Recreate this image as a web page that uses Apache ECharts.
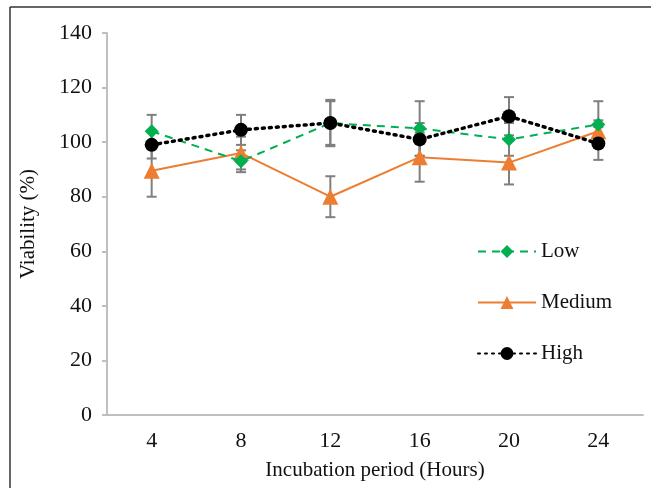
<!DOCTYPE html>
<html>
<head>
<meta charset="utf-8">
<script src="https://cdn.jsdelivr.net/npm/echarts@6/dist/echarts.min.js"></script>
<style>
  html, body { margin: 0; padding: 0; background: #fff; }
  #chart { width: 651px; height: 488px; }
</style>
</head>
<body>
<div id="chart"></div>
<script>
// incubation time points (hours)
const hours = ['4', '8', '12', '16', '20', '24'];

// viability (%)
const lowValues = [104, 93, 107, 105, 101, 106.5];
const lowErrors = [6, 4, 8, 10, 6, 8.5];
const mediumValues = [89.5, 96, 80, 94.5, 92.5, 104];
const mediumErrors = [9.5, 6, 7.5, 9, 8, 4];
const highValues = [99, 104.5, 107, 101, 109.5, 99.5];
const highErrors = [5, 5.5, 8.5, 6, 7, 6];

const yTicks = [0, 20, 40, 60, 80, 100, 120, 140];

const serifFont = '"Liberation Serif", "DejaVu Serif", serif';
const textColor = '#111';

// error bars drawn as custom series: [x, low, high]
function errorData(values, errors) {
  let out = [];
  for (let i = 0; i < values.length; i++) {
    out.push([i, values[i] - errors[i], values[i] + errors[i]]);
  }
  return out;
}

function errorSeries(values, errors) {
  return {
    type: 'custom',
    silent: true,
    z: 1,
    data: errorData(values, errors),
    renderItem: function (params, api) {
      const x = api.value(0);
      const lo = api.coord([x, api.value(1)]);
      const hi = api.coord([x, api.value(2)]);
      const w = 5;
      const style = { stroke: '#7f7f7f', lineWidth: 2 };
      return {
        type: 'group',
        children: [
          { type: 'line', shape: { x1: lo[0], y1: lo[1], x2: hi[0], y2: hi[1] }, style: style },
          { type: 'line', shape: { x1: lo[0] - w, y1: lo[1], x2: lo[0] + w, y2: lo[1] }, style: style },
          { type: 'line', shape: { x1: hi[0] - w, y1: hi[1], x2: hi[0] + w, y2: hi[1] }, style: style }
        ]
      };
    }
  };
}

const chart = echarts.init(document.getElementById('chart'));
chart.setOption({
  animation: false,
  grid: { left: 107, right: 8, top: 33, bottom: 73 },
  graphic: [
    { type: 'line', shape: { x1: 10, y1: 7, x2: 10, y2: 488 }, style: { stroke: '#333', lineWidth: 1.5 } },
    { type: 'line', shape: { x1: 10, y1: 7, x2: 651, y2: 7 }, style: { stroke: '#333', lineWidth: 1.5 } }
  ],
  legend: {
    orient: 'vertical',
    left: 477,
    top: 241,
    padding: 0,
    itemWidth: 58,
    itemHeight: 16,
    itemGap: 30,
    textStyle: { fontFamily: serifFont, fontSize: 21, color: textColor },
    data: ['Low', 'Medium', 'High']
  },
  xAxis: {
    type: 'category',
    data: hours,
    name: 'Incubation period (Hours)',
    nameLocation: 'middle',
    nameGap: 45,
    nameTextStyle: { fontFamily: serifFont, fontSize: 21, color: textColor },
    axisLine: { lineStyle: { color: '#bfbfbf', width: 2 } },
    axisTick: { alignWithLabel: true, length: 5, lineStyle: { color: '#bfbfbf', width: 2 } },
    axisLabel: { fontFamily: serifFont, fontSize: 22, color: textColor, margin: 15 },
    splitLine: { show: false }
  },
  yAxis: {
    type: 'value',
    min: 0,
    max: 140,
    interval: 20,
    name: 'Viability (%)',
    nameLocation: 'middle',
    nameGap: 68,
    nameTextStyle: { fontFamily: serifFont, fontSize: 21, color: textColor },
    axisLine: { show: true, lineStyle: { color: '#bfbfbf', width: 2 } },
    axisTick: { show: true, length: 5, lineStyle: { color: '#bfbfbf', width: 2 } },
    axisLabel: {
      fontFamily: serifFont, fontSize: 22, color: textColor, margin: 15,
      formatter: function (v) { return yTicks.indexOf(v) >= 0 ? String(v) : ''; }
    },
    splitLine: { show: false }
  },
  series: [
    errorSeries(lowValues, lowErrors),
    errorSeries(mediumValues, mediumErrors),
    errorSeries(highValues, highErrors),
    {
      name: 'Low',
      type: 'line',
      z: 3,
      data: lowValues,
      symbol: 'diamond',
      symbolSize: 14,
      itemStyle: { color: '#00b050' },
      lineStyle: { color: '#00b050', width: 2, type: [8, 6] }
    },
    {
      name: 'Medium',
      type: 'line',
      z: 2,
      data: mediumValues,
      symbol: 'triangle',
      symbolSize: 16,
      itemStyle: { color: '#ed7d31' },
      lineStyle: { color: '#ed7d31', width: 2 }
    },
    {
      name: 'High',
      type: 'line',
      z: 4,
      data: highValues,
      symbol: 'circle',
      symbolSize: 14,
      itemStyle: { color: '#000' },
      lineStyle: { color: '#000', width: 3.5, type: [2, 5], cap: 'round' }
    }
  ]
});
</script>
</body>
</html>
